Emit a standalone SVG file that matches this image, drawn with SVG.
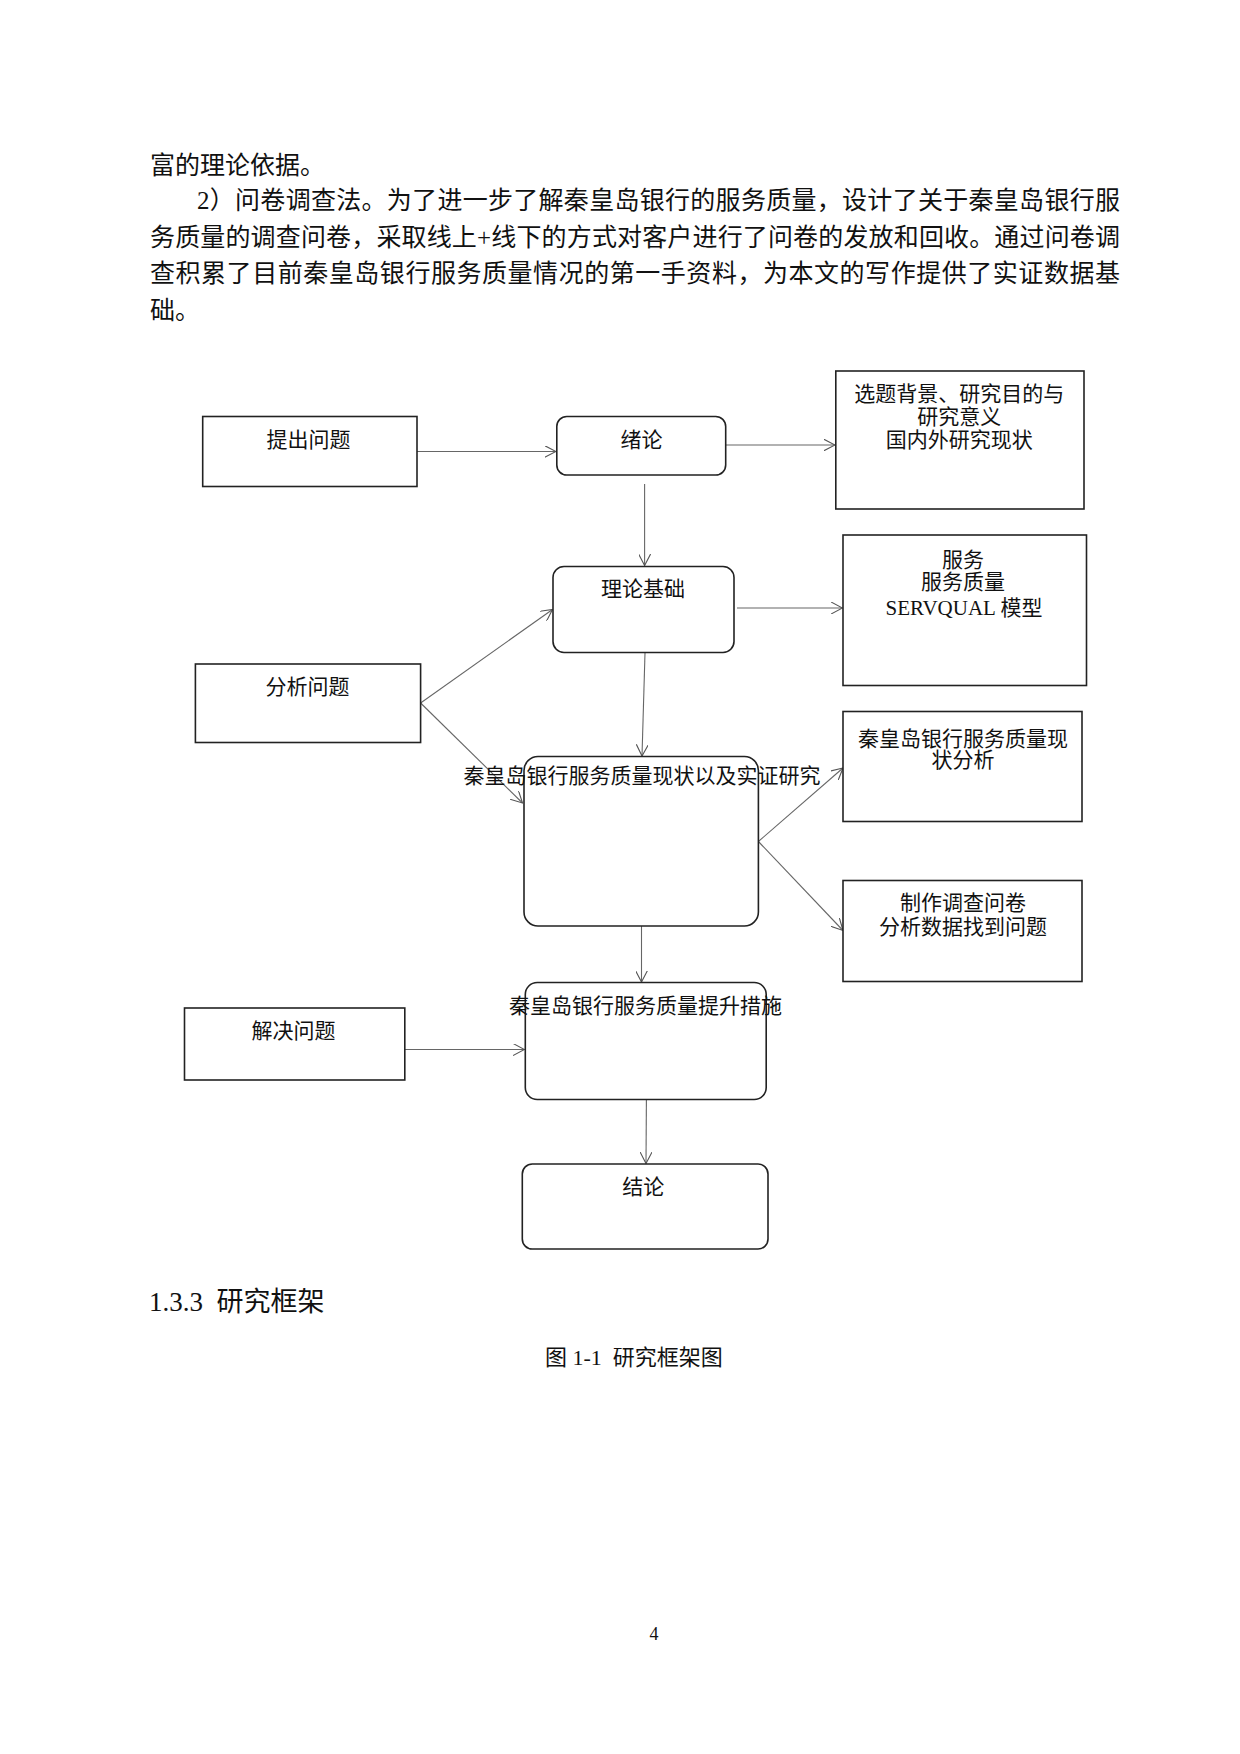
<svg xmlns="http://www.w3.org/2000/svg" width="1240" height="1754" viewBox="0 0 1240 1754">
<style>
  .body { font-family: "Liberation Serif", "Noto Sans CJK SC", serif; fill: #111; }
  .p { font-size: 25px; }
  .lbl { font-size: 21px; text-anchor: middle; }
  .box { fill: #fff; stroke: #222; stroke-width: 1.6; }
  .rbox { fill: #fff; stroke: #222; stroke-width: 1.6; }
  .con { fill: none; stroke: #666; stroke-width: 1.1; marker-end: url(#arr); }
</style>
<defs>
  <marker id="arr" viewBox="0 0 12 12" refX="11.5" refY="6" markerWidth="12" markerHeight="12" markerUnits="userSpaceOnUse" orient="auto">
    <path d="M0,0 L11.5,6 L0,12" fill="none" stroke="#555" stroke-width="1.1"/>
  </marker>
</defs>
<rect width="1240" height="1754" fill="#fff"/>

<g id="paragraph" class="body p">
  <text x="150" y="173.5">富的理论依据。</text>
  <text x="197" y="209" textLength="923" lengthAdjust="spacing">2）问卷调查法。为了进一步了解秦皇岛银行的服务质量，设计了关于秦皇岛银行服</text>
  <text x="150" y="245.5" textLength="970" lengthAdjust="spacing">务质量的调查问卷，采取线上+线下的方式对客户进行了问卷的发放和回收。通过问卷调</text>
  <text x="150" y="282" textLength="970" lengthAdjust="spacing">查积累了目前秦皇岛银行服务质量情况的第一手资料，为本文的写作提供了实证数据基</text>
  <text x="150" y="319">础。</text>
</g>

<g id="connectors">
  <line class="con" x1="417" y1="451.5" x2="556" y2="451.5"/>
  <line class="con" x1="726" y1="445" x2="835" y2="445"/>
  <line class="con" x1="644.6" y1="484" x2="644.6" y2="565.5"/>
  <line class="con" x1="737" y1="608" x2="842.5" y2="608"/>
  <line class="con" x1="420.6" y1="703" x2="552.5" y2="609.5"/>
  <line class="con" x1="420.6" y1="703" x2="522.5" y2="803"/>
  <line class="con" x1="645" y1="653" x2="642" y2="756"/>
  <line class="con" x1="758.4" y1="841.5" x2="843" y2="768"/>
  <line class="con" x1="758.4" y1="841.5" x2="843" y2="930.5"/>
  <line class="con" x1="641.5" y1="926" x2="641.5" y2="982"/>
  <line class="con" x1="404.8" y1="1049.5" x2="524.5" y2="1049.5"/>
  <line class="con" x1="646.4" y1="1099.5" x2="646" y2="1163.5"/>
</g>

<g id="n-tichu">
  <rect class="box" x="202.7" y="416.5" width="214.3" height="70"/>
  <text class="body lbl" x="308.6" y="446.5">提出问题</text>
</g>
<g id="n-xulun">
  <rect class="rbox" x="556.8" y="416.5" width="168.9" height="58.5" rx="10"/>
  <text class="body lbl" x="641.5" y="446.5">绪论</text>
</g>
<g id="n-xuanti">
  <rect class="box" x="835.8" y="371" width="248.2" height="138"/>
  <text class="body lbl" x="959.3" y="400.5">选题背景、研究目的与</text>
  <text class="body lbl" x="959.3" y="423.5">研究意义</text>
  <text class="body lbl" x="959.3" y="446.5">国内外研究现状</text>
</g>
<g id="n-lilun">
  <rect class="rbox" x="553" y="566.5" width="181" height="86" rx="11"/>
  <text class="body lbl" x="643" y="595.5">理论基础</text>
</g>
<g id="n-fuwu">
  <rect class="box" x="843" y="535" width="243.5" height="150.5"/>
  <text class="body lbl" x="963" y="566.5">服务</text>
  <text class="body lbl" x="963" y="589">服务质量</text>
  <text class="body lbl" x="964" y="614.5" font-size="24">SERVQUAL 模型</text>
</g>
<g id="n-fenxi">
  <rect class="box" x="195.4" y="664" width="225.2" height="78.5"/>
  <text class="body lbl" x="307.4" y="694">分析问题</text>
</g>
<g id="n-xianzhuang-fenxi">
  <rect class="box" x="843" y="711.5" width="239" height="110"/>
  <text class="body lbl" x="963" y="745.5">秦皇岛银行服务质量现</text>
  <text class="body lbl" x="963" y="767">状分析</text>
</g>
<g id="n-shizheng">
  <rect class="rbox" x="524" y="756.5" width="234.4" height="169.5" rx="14"/>
  <text class="body lbl" x="642" y="782.5">秦皇岛银行服务质量现状以及实证研究</text>
</g>
<g id="n-wenjuan">
  <rect class="box" x="843" y="880.5" width="239" height="101"/>
  <text class="body lbl" x="963" y="909.5">制作调查问卷</text>
  <text class="body lbl" x="963" y="934">分析数据找到问题</text>
</g>
<g id="n-cuoshi">
  <rect class="rbox" x="525.3" y="982.5" width="240.9" height="117" rx="12"/>
  <text class="body lbl" x="645.5" y="1012.5">秦皇岛银行服务质量提升措施</text>
</g>
<g id="n-jiejue">
  <rect class="box" x="184.5" y="1008" width="220.3" height="72"/>
  <text class="body lbl" x="293.5" y="1037.5">解决问题</text>
</g>
<g id="n-jielun">
  <rect class="rbox" x="522.3" y="1164" width="245.7" height="85" rx="10"/>
  <text class="body lbl" x="643.3" y="1194">结论</text>
</g>

<text class="body" x="149" y="1311" font-size="27" xml:space="preserve">1.3.3  研究框架</text>
<text class="body" x="545" y="1365" font-size="22" xml:space="preserve">图 1-1  研究框架图</text>
<text class="body" x="654" y="1640" font-size="18" text-anchor="middle">4</text>
</svg>
